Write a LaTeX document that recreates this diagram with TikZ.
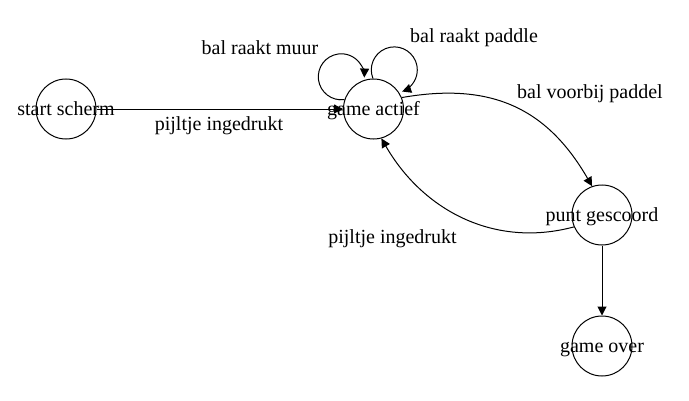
\documentclass[tikz,border=0pt]{standalone}
\usepackage{fontspec}
\setmainfont{Liberation Serif}
\usetikzlibrary{arrows.meta}

\begin{document}
\begin{tikzpicture}[x=1pt, y=1pt, line width=1pt,
    toestand/.style={draw, circle, minimum size=60pt, inner sep=0pt},
    naam/.style={text height=13pt, text depth=0pt},
    pijl/.style={-{Triangle[length=9pt, width=9pt]}},
    every node/.style={font=\fontsize{20}{24}\selectfont}]
    \useasboundingbox (0,0) rectangle (689,400);
    \node[toestand, label={[naam]center:start scherm}] (start) at (66,291) {};
    \node[toestand, label={[naam]center:game actief}] (actief) at (373.5,291) {};
    \node[toestand, label={[naam]center:punt gescoord}] (punt) at (602,185) {};
    \node[toestand, label={[naam]center:game over}] (over) at (602,54) {};
    \draw[pijl] (start) -- (actief);
    \draw[pijl] (actief.162) arc[start angle=-82, end angle=-362, radius=23];
    \draw[pijl] (actief.91) arc[start angle=202, end angle=-70, radius=23];
    \draw[pijl] (actief.22) to[out=10, in=120, looseness=1.1] (punt.109);
    \draw[pijl] (punt.203) to[out=195, in=-60, looseness=1] (actief.285);
    \draw[pijl] (punt) -- (over);
    \node (lstart) at (219,274.5) {pijltje ingedrukt};
    \node (lmuur) at (260,352) {bal raakt muur};
    \node (lpaddle) at (474,362.5) {bal raakt paddle};
    \node (lvoorbij) at (590,306.5) {bal voorbij paddel};
    \node (lpunt) at (392.5,161.5) {pijltje ingedrukt};
  \end{tikzpicture}
\end{document}
